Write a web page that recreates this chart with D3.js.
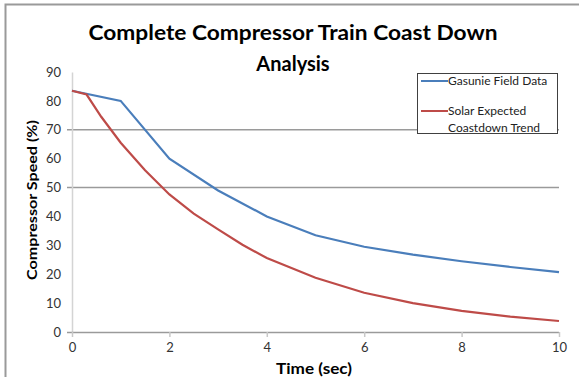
<!DOCTYPE html>
<html>
<head>
<meta charset="utf-8">
<script src="https://cdn.jsdelivr.net/npm/d3@7"></script>
<style>
  body { margin: 0; background: #fff; }
  text { font-family: Lato, "Open Sans", sans-serif; }
</style>
</head>
<body>
<script>
var width = 579,
    height = 377;

// chart data
var timeSec = [0, 1, 2, 3, 4, 5, 6, 7, 8, 9, 10];
var gasunieSpeed = [83.5, 80, 60, 49, 40, 33.5, 29.5, 26.8, 24.5, 22.5, 20.7];

var solarTime = [0, 0.3, 0.6, 1, 1.5, 2, 2.5, 3, 3.5, 4, 5, 6, 7, 8, 9, 10];
var solarSpeed = [83.5, 82.2, 74.5, 65.5, 56, 47.6, 41, 35.5, 30.2, 25.6, 18.8, 13.6, 10, 7.3, 5.3, 3.8];

var xTicks = [0, 2, 4, 6, 8, 10];
var yTicks = [0, 10, 20, 30, 40, 50, 60, 70, 80, 90];
var gridValues = [50, 70];

var x = d3.scaleLinear().domain([0, 10]).range([72, 559]);
var y = d3.scaleLinear().domain([0, 90]).range([332, 72]);

var svg = d3.select("body").append("svg")
    .attr("width", width)
    .attr("height", height);

// outer frame (top + left only visible)
svg.append("path")
    .attr("d", "M5.5,377V4.5H579")
    .attr("fill", "none")
    .attr("stroke", "#9a9a9a")
    .attr("stroke-width", 2);

// gridlines
svg.append("g")
  .selectAll("line")
  .data(gridValues)
  .enter().append("line")
    .attr("x1", x(0) - 5)
    .attr("x2", x(10))
    .attr("y1", function(d) { return y(d); })
    .attr("y2", function(d) { return y(d); })
    .attr("stroke", "#9a9a9a")
    .attr("stroke-width", 1.5);

// y axis
var yAxis = svg.append("g")
    .attr("transform", "translate(" + x(0) + ",0)")
    .call(d3.axisLeft(y).tickValues(yTicks).tickSize(0).tickPadding(11));
yAxis.select(".domain").attr("stroke", "#d4d4d4").attr("stroke-width", 1.5);
yAxis.selectAll("text")
    .attr("font-size", 13)
    .attr("fill", "#333")
    .attr("font-family", "Lato, sans-serif");

// x axis
var xAxis = svg.append("g")
    .attr("transform", "translate(0," + y(0) + ")")
    .call(d3.axisBottom(x).tickValues(xTicks).tickSize(5).tickSizeOuter(0).tickPadding(6));
xAxis.select(".domain").attr("stroke", "#9a9a9a").attr("stroke-width", 1.5)
    .attr("d", "M" + (x(0) - 5) + ",0.5H" + x(10));
xAxis.selectAll(".tick line").attr("stroke", "#c8c8c8").attr("stroke-width", 1.5);
xAxis.selectAll("text")
    .attr("font-size", 13)
    .attr("fill", "#333")
    .attr("font-family", "Lato, sans-serif");

// lines
var line = d3.line()
    .x(function(d) { return x(d[0]); })
    .y(function(d) { return y(d[1]); });

svg.append("path")
    .datum(d3.zip(timeSec, gasunieSpeed))
    .attr("d", line)
    .attr("fill", "none")
    .attr("stroke", "#4a7ebb")
    .attr("stroke-width", 2.2);

svg.append("path")
    .datum(d3.zip(solarTime, solarSpeed))
    .attr("d", line)
    .attr("fill", "none")
    .attr("stroke", "#be4b48")
    .attr("stroke-width", 2.2);

// title
svg.append("text")
    .attr("x", 293).attr("y", 40)
    .attr("text-anchor", "middle")
    .attr("font-size", 20).attr("font-weight", "bold")
    .attr("textLength", 409).attr("lengthAdjust", "spacingAndGlyphs")
    .text("Complete Compressor Train Coast Down");
svg.append("text")
    .attr("x", 293).attr("y", 71)
    .attr("text-anchor", "middle")
    .attr("font-size", 20).attr("font-weight", "bold")
    .text("Analysis");

// axis titles
svg.append("text")
    .attr("transform", "translate(37,200)rotate(-90)")
    .attr("text-anchor", "middle")
    .attr("font-size", 14).attr("font-weight", "bold")
    .attr("textLength", 160).attr("lengthAdjust", "spacingAndGlyphs")
    .text("Compressor Speed (%)");
svg.append("text")
    .attr("x", 314).attr("y", 374)
    .attr("text-anchor", "middle")
    .attr("font-size", 15).attr("font-weight", "bold")
    .attr("textLength", 76).attr("lengthAdjust", "spacingAndGlyphs")
    .text("Time (sec)");

// legend
var legend = svg.append("g");
legend.append("rect")
    .attr("x", 417.5).attr("y", 73.5)
    .attr("width", 140).attr("height", 60)
    .attr("fill", "#fff")
    .attr("stroke", "#404040");

var legendItems = [
  { color: "#4a7ebb", lines: ["Gasunie Field Data"], y: 81 },
  { color: "#be4b48", lines: ["Solar Expected", "Coastdown Trend"], y: 111 }
];
legendItems.forEach(function(d) {
  legend.append("line")
      .attr("x1", 421).attr("x2", 448)
      .attr("y1", d.y).attr("y2", d.y)
      .attr("stroke", d.color).attr("stroke-width", 2);
  d.lines.forEach(function(t, i) {
    legend.append("text")
        .attr("x", 448).attr("y", d.y + 4 + i * 17)
        .attr("font-size", 12)
        .attr("fill", "#222")
        .text(t);
  });
});
</script>
</body>
</html>
